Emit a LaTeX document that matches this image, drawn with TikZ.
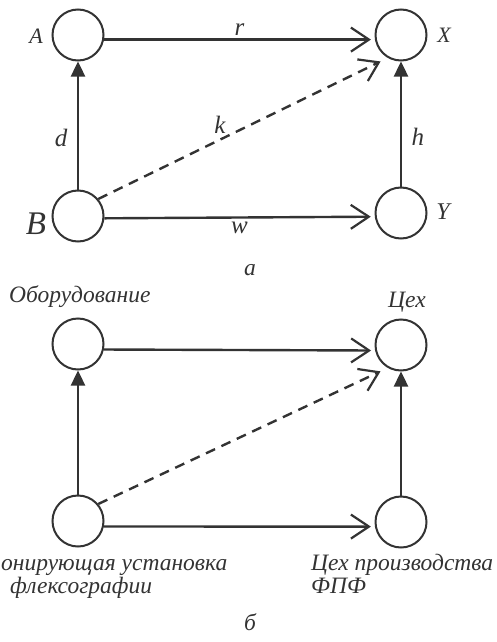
\documentclass[tikz,border=0pt]{standalone}
\usepackage{fontspec}
\setmainfont{Liberation Serif}
\usetikzlibrary{arrows.meta}
\definecolor{ink}{gray}{0.2}

\begin{document}
\begin{tikzpicture}[x=1pt,y=-1pt,
  vert/.style={draw=ink,circle,line width=2pt,minimum size=51pt,inner sep=0pt},
  edge/.style={draw=ink,line width=2.4pt,shorten >=4pt,
               -{Straight Barb[length=18pt,width=24pt,line width=2.2pt]}},
  lift/.style={draw=ink,line width=2.4pt,-{Triangle[length=15pt,width=14pt]}},
  lbl/.style={font=\fontsize{25}{27}\selectfont\itshape,text=ink},
  txt/.style={font=\fontsize{23.5}{26}\selectfont\itshape,text=ink,inner sep=0pt}]
  \useasboundingbox (0,0) rectangle (497,642);
  % panel a
  \node[vert] (A) at (78,35)  {};
  \node[vert] (X) at (401,35) {};
  \node[vert] (B) at (78,216) {};
  \node[vert] (Y) at (401,213) {};
  \node[lbl,font=\fontsize{22}{24}\selectfont\itshape] (nA) at (36,36) {A};
  \node[lbl,font=\fontsize{22}{24}\selectfont\itshape] (nX) at (444,35) {X};
  \node[lbl,font=\fontsize{33}{35}\selectfont\itshape] (nB) at (36,224) {B};
  \node[lbl,font=\fontsize{24}{26}\selectfont\itshape] (nY) at (443,212) {Y};
  \draw[edge] (A.-10) -- (X.190)
    node[midway,above=0pt,lbl] (lr) {r};
  \draw[edge] (B.-5) -- (Y.188)
    node[midway,below=0pt,lbl] (lw) {w};
  \draw[edge,dash pattern=on 10pt off 7pt,shorten >=8pt] (B.40) -- (X.240)
    node[pos=0.42,above=2pt,lbl] (lk) {k};
  \draw[lift] (B) -- (A)
    node[pos=0.4,left=6pt,lbl] (ld) {d};
  \draw[lift] (Y) -- (X)
    node[pos=0.4,right=6pt,lbl] (lh) {h};
  \node[txt,anchor=base] (ta) at (250,275) {а};
  % panel b
  \node[vert] (O) at (78,344)  {};
  \node[vert] (C) at (401,345) {};
  \node[vert] (E) at (78,521)  {};
  \node[vert] (F) at (401,522) {};
  \node[txt,anchor=base west] (tO) at (9,302) {Оборудование};
  \node[txt,anchor=base] (tC) at (407,307) {Цех};
  \node[txt,anchor=base west] (tE1) at (1,570) {онирующая установка};
  \node[txt,anchor=base west] (tE2) at (10,593) {флексографии};
  \node[txt,anchor=base west] (tF1) at (311,570) {Цех производства};
  \node[txt,anchor=base west] (tF2) at (311,593) {ФПФ};
  \draw[edge] (O.-12) -- (C.192);
  \draw[edge] (E.-12) -- (F.190);
  \draw[edge,dash pattern=on 10pt off 7pt,shorten >=8pt] (E.40) -- (C.240);
  \draw[lift] (E) -- (O);
  \draw[lift] (F) -- (C);
  \node[txt,anchor=base] (tb) at (250,630) {б};
\end{tikzpicture}
\end{document}
